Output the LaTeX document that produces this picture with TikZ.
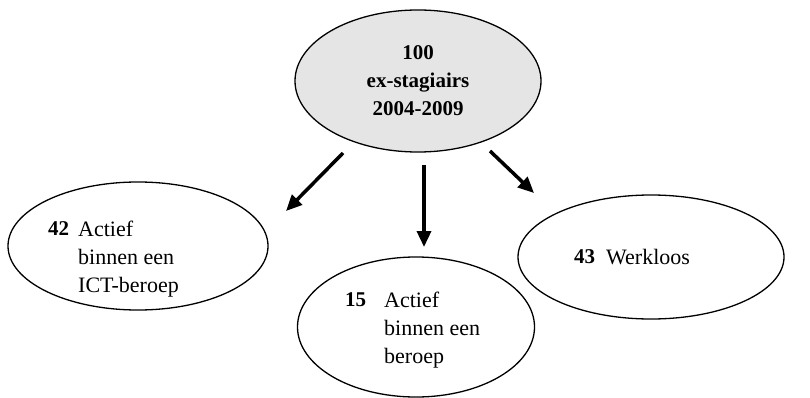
\documentclass[tikz,border=0pt]{standalone}
\usepackage{fontspec}
\setmainfont{Liberation Serif}
\usetikzlibrary{shapes.geometric,arrows.meta}
\begin{document}
\begin{tikzpicture}[x=1pt,y=-1pt,
  oval/.style={ellipse,draw=black,line width=1.3pt,inner sep=0pt},
  lbl/.style={font=\fontsize{22}{28}\selectfont,inner sep=0pt,align=left},
  num/.style={font=\fontsize{21}{28}\selectfont\bfseries,inner sep=0pt},
  arr/.style={line width=3.5pt,-{Triangle[length=16pt,width=14pt]}}]
\useasboundingbox (0,0) rectangle (810,398);
\node[oval,fill=black!10,minimum width=246pt,minimum height=142pt] (top) at (418,81) {};
\node[oval,minimum width=260pt,minimum height=128pt] (left) at (138,246) {};
\node[oval,minimum width=237pt,minimum height=140pt] (mid) at (416,327) {};
\node[oval,minimum width=266pt,minimum height=124pt] (right) at (651,257) {};
\node[lbl,align=center,font=\fontsize{21}{28}\selectfont\bfseries] (toptext) at (418,81) {100\\ex-stagiairs\\2004-2009};
\node[num,anchor=north west] (n42) at (48,221) {42};
\node[lbl,anchor=north west] (t42) at (78,221) {Actief\\binnen een\\ICT-beroep};
\node[num,anchor=north west] (n15) at (345,292) {15};
\node[lbl,anchor=north west] (t15) at (384,292) {Actief\\binnen een\\beroep};
\node[num,anchor=north west] (n43) at (574,249) {43};
\node[lbl,anchor=north west] (t43) at (606,249) {Werkloos};
\coordinate (a1s) at (343,153);
\coordinate (a1e) at (286,211);
\coordinate (a2s) at (424,165);
\coordinate (a2e) at (424,247);
\coordinate (a3s) at (490,151);
\coordinate (a3e) at (534,193);
\draw[arr] (a1s) -- (a1e);
\draw[arr] (a2s) -- (a2e);
\draw[arr] (a3s) -- (a3e);
\end{tikzpicture}
\end{document}
